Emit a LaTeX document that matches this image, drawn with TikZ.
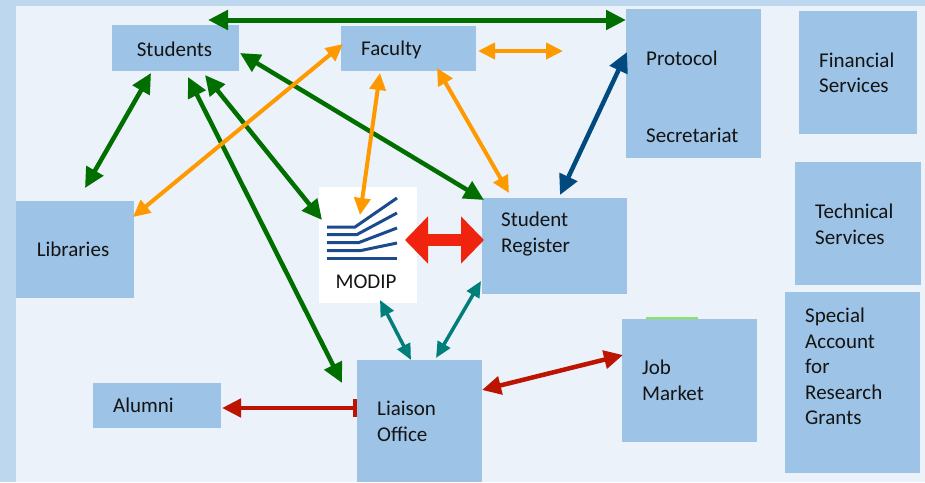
\documentclass[tikz,border=0pt]{standalone}
\usepackage{fontspec}
\setmainfont{Carlito}
\usetikzlibrary{arrows.meta,calc}
\definecolor{bgout}{HTML}{BDD7EE}
\definecolor{bgin}{HTML}{EBF2FA}
\definecolor{boxblue}{HTML}{9DC3E6}
\definecolor{gcol}{HTML}{006F00}
\definecolor{ocol}{HTML}{FF9900}
\definecolor{bcol}{HTML}{004A80}
\definecolor{tcol}{HTML}{007F7A}
\definecolor{rcol}{HTML}{BC1400}
\definecolor{bigred}{HTML}{F0230F}
\definecolor{logoblue}{HTML}{1B4A8E}
\definecolor{lgreen}{HTML}{8CE65A}
\definecolor{txtcol}{HTML}{141414}
\tikzset{
  box/.style={fill=boxblue, draw=none, inner sep=0pt, outer sep=0pt, anchor=north west},
  txt/.style={font=\fontsize{21}{25.5}\selectfont, inner sep=0pt, align=left, text=txtcol},
  garrow/.style={draw=gcol, line width=4.5pt, arrows={Triangle[length=20pt,width=19pt]-Triangle[length=20pt,width=19pt]}},
  oarrow/.style={draw=ocol, line width=4pt, arrows={Triangle[length=17pt,width=16pt]-Triangle[length=17pt,width=16pt]}},
  barrow/.style={draw=bcol, line width=4.5pt, arrows={Triangle[length=20pt,width=19pt]-Triangle[length=20pt,width=19pt]}},
  tarrow/.style={draw=tcol, line width=3.5pt, arrows={Triangle[length=16pt,width=14pt]-Triangle[length=16pt,width=14pt]}},
  rarrow/.style={draw=rcol, line width=4.5pt, arrows={Triangle[length=19pt,width=18pt]-Triangle[length=19pt,width=18pt]}},
  logoline/.style={draw=logoblue, line width=3pt}
}
\begin{document}
\begin{tikzpicture}[x=1pt,y=-1pt]
\fill[bgout] (0,0) rectangle (925,482);
\fill[bgin] (16,6) rectangle (925,482);
\useasboundingbox (0,0) rectangle (925,482);

% boxes
\node[box, minimum width=127pt, minimum height=46pt] (stud) at (112,25) {};
\node[box, minimum width=135pt, minimum height=45pt] (fac) at (341,26) {};
\node[box, minimum width=135pt, minimum height=149pt] (prot) at (626,9) {};
\node[box, minimum width=118pt, minimum height=123pt] (fin) at (799,11) {};
\node[box, minimum width=126pt, minimum height=123pt] (tech) at (795,162) {};
\node[box, minimum width=135pt, minimum height=181pt] (spec) at (785,292) {};
\node[box, minimum width=118pt, minimum height=97pt] (lib) at (16,201) {};
\node[box, fill=white, minimum width=98pt, minimum height=116pt] (modip) at (319,187) {};
\node[box, minimum width=145pt, minimum height=96pt] (reg) at (482,198) {};
\node[box, minimum width=125pt, minimum height=122pt] (liai) at (357,360) {};
\node[box, minimum width=128pt, minimum height=45pt] (alum) at (93,383) {};
\node[box, minimum width=135pt, minimum height=123pt] (job) at (622,319) {};
\fill[lgreen] (646,317.3) rectangle (698,319);

% MODIP logo
\draw[logoline] (327,227) -- (355,227) -- (397,198);
\draw[logoline] (327,234.5) -- (357,234.5) -- (397,213);
\draw[logoline] (327,242.5) -- (359,242.5) -- (397,228);
\draw[logoline] (327,250.5) -- (361,250.5) -- (397,243);
\draw[logoline] (327,258.5) -- (397,258.5);

% texts
\node[txt] at ($(stud.center)+(-1,1)$) {Students};
\node[txt, anchor=west] at ($(fac.west)+(20,1)$) {Faculty};
\node[txt, anchor=west] at ($(prot.north west)+(20,49)$) {Protocol};
\node[txt, anchor=west] at ($(prot.north west)+(20,126)$) {Secretariat};
\node[txt, anchor=west] at ($(fin.north west)+(20,62)$) {Financial\\Services};
\node[txt, anchor=west] at ($(tech.north west)+(20,62.5)$) {Technical\\Services};
\node[txt, anchor=west] at ($(spec.north west)+(20,74.5)$) {Special\\Account\\for\\Research\\Grants};
\node[txt] at ($(lib.center)+(-2,0)$) {Libraries};
\node[txt] at ($(modip.south)+(-2,-21)$) {MODIP};
\node[txt, anchor=west] at ($(reg.north west)+(19,36)$) {Student\\Register};
\node[txt, anchor=west] at ($(alum.west)+(20,0)$) {Alumni};
\node[txt, anchor=west] at ($(liai.north west)+(20,61.5)$) {Liaison\\Office};
\node[txt, anchor=west] at ($(job.north west)+(20,61.5)$) {Job\\Market};

% free end of the orange arrow
\coordinate (ofree) at (563,51);

% green arrows
\draw[garrow, line width=5pt] ($(stud.north west)+(96,-5)$) -- ($(prot.north west)+(0,11)$);
\draw[garrow] ($(stud.south west)+(39,2)$) -- ($(lib.north west)+(69,-13)$);
\draw[garrow] ($(stud.north east)+(1,28)$) -- ($(reg.north west)+(2,2)$);
\draw[garrow] ($(stud.south west)+(93,4)$) -- ($(modip.north west)+(3,33)$);
\draw[garrow] ($(stud.south west)+(76,6)$) -- ($(liai.north west)+(-15,23)$);

% orange arrows
\draw[oarrow] ($(fac.north west)+(2,18)$) -- ($(lib.north east)+(-1,16)$);
\draw[oarrow] ($(fac.south west)+(39,2)$) -- ($(modip.north west)+(41,28)$);
\draw[oarrow] ($(fac.south west)+(96,-3)$) -- ($(reg.north west)+(27,-5)$);
\draw[oarrow] ($(fac.north east)+(2,25)$) -- (ofree);

% blue arrow
\draw[barrow] ($(reg.north west)+(78,-3)$) -- ($(prot.north west)+(1,43)$);

% teal arrows
\draw[tarrow] ($(modip.south west)+(61,-3)$) -- ($(liai.north west)+(54,0)$);
\draw[tarrow] ($(reg.south west)+(-1,-13)$) -- ($(liai.north west)+(79,-2)$);

% dark red arrows
\draw[draw=rcol, line width=4.5pt, arrows={Triangle[length=19pt,width=18pt]-Bar[width=18pt,length=3pt]}] ($(alum.north east)+(1,25)$) -- ($(liai.north west)+(0,48)$);
\draw[rarrow] ($(liai.north east)+(0,30)$) -- ($(job.north west)+(1,36)$);

% big red arrow
\draw[draw=bigred, line width=12pt, arrows={Triangle[length=23pt,width=46pt]-Triangle[length=23pt,width=46pt]}] ($(modip.north east)+(-12,53)$) -- ($(reg.north west)+(2,42)$);
\end{tikzpicture}
\end{document}
